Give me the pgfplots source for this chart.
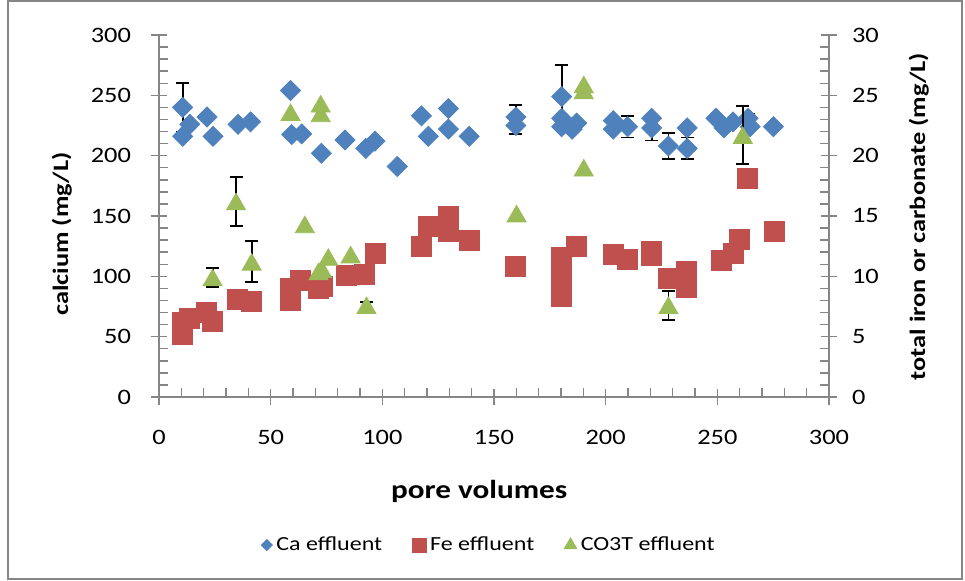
\documentclass[border=0pt]{standalone}
\usepackage{fontspec}
\setmainfont{Carlito}[FakeStretch=1.2]
\usepackage{pgfplots}
\pgfplotsset{compat=1.18}
\definecolor{cablue}{HTML}{4F81BD}
\definecolor{fered}{HTML}{C0504D}
\definecolor{cogreen}{HTML}{9BBB59}
\definecolor{axgray}{HTML}{868686}
\pgfplotsset{
  commonax/.style={
    at={(79.5pt,92pt)}, anchor=south west, scale only axis,
    width=335pt, height=181pt,
    xmin=0, xmax=300,
    axis line style={axgray, line width=0.75pt},
    tick align=center, major tick length=8pt, minor tick length=4.5pt,
    tick style={axgray, line width=0.75pt},
    /pgf/number format/assume math mode=true,
    tick label style={font=\fontsize{11}{13}\selectfont, text=black},
    label style={font=\bfseries\fontsize{11}{13}\selectfont},
    clip=false,
  },
  errst/.style={only marks, mark=none,
    error bars/y dir=both, error bars/y explicit,
    error bars/error mark=|,
    error bars/error bar style={black, line width=0.9pt},
    error bars/error mark options={black, mark size=3.25pt, line width=0.9pt}},
}
\begin{document}
\begin{tikzpicture}
\path (0,0) rectangle (482.5pt,290.5pt);
\draw[axgray, line width=0.6pt] (4pt,1pt) rectangle (481pt,290pt);
\begin{axis}[commonax,
  ymin=0, ymax=300,
  axis x line*=bottom, axis y line*=left,
  xtick={0,50,...,300}, ytick={0,50,...,300},
  minor x tick num=4, minor y tick num=4,
  minor x tick style={yshift=2.25pt}, minor y tick style={xshift=2.25pt},
  yticklabel style={xshift=-6.5pt},
  xticklabel style={yshift=-9pt},
  xlabel={pore volumes},
  xlabel style={at={(axis description cs:0.478,-0.262)}, anchor=center, font=\bfseries\fontsize{13}{15}\selectfont},
  ylabel={calcium (mg/L)},
  ylabel style={at={(axis description cs:-0.145,0.45)}, anchor=center, rotate=0},
]
% Ca error bars
\addplot[errst] coordinates {
 (10.6,240) +- (0,20)
 (58.9,254) +- (0,3)
 (159.8,230) +- (0,12)
 (180.3,249) +- (0,26)
 (209.8,224) +- (0,9)
 (220.6,223) +- (0,10.5)
 (228.1,208) +- (0,10.5)
 (236.5,206) +- (0,9)
 (263.8,231) +- (0,4)
};
\addplot[only marks, mark=diamond*, mark size=5pt, mark options={xscale=1.333, fill=cablue, draw=cablue}] coordinates {
 (10.6,240) (13.8,226) (10.6,216) (21.5,232) (24.2,216) (35.4,226) (41.0,228)
 (58.9,254) (59.4,217.5) (63.9,218) (72.7,202) (83.3,213) (92.6,206) (96.7,212)
 (106.7,191) (117.5,233) (120.6,216) (129.6,239) (129.6,222) (138.9,216)
 (159.8,232) (159.8,225) (180.3,249) (180.3,231) (180.3,224) (187,227) (185,222)
 (203.4,229) (203.4,222) (209.8,224) (220.6,231) (220.6,223) (228.1,208)
 (236.5,223) (236.5,206) (249.4,231) (253,223) (257,228) (263.8,231) (264.7,224)
 (275.1,224)
};
\end{axis}
\begin{axis}[commonax,
  ymin=0, ymax=30,
  axis x line=none, axis y line*=right,
  ytick={0,5,...,30}, minor y tick num=4,
  minor y tick style={xshift=-2.25pt},
  yticklabel style={xshift=4pt},
  ylabel={total iron or carbonate (mg/L)},
  ylabel style={at={(axis description cs:1.134,0.498)}, anchor=center, rotate=0},
  legend columns=3,
  legend style={at={(axis description cs:0.494,-0.409)}, anchor=center, draw=none,
    font=\fontsize{10}{12}\selectfont, /tikz/every even column/.style={column sep=13pt}},
  legend image code/.code={\draw[mark repeat=2,mark phase=2,#1] plot coordinates {(0pt,0pt)(5pt,0pt)(10pt,0pt)};},
]
\addlegendimage{only marks, mark=diamond*, mark size=2.75pt, mark options={xscale=1.333, fill=cablue, draw=cablue}}
\addlegendentry{Ca effluent}
\addlegendimage{only marks, mark=square*, mark size=3.5pt, mark options={fill=fered, draw=fered}}
\addlegendentry{Fe effluent}
\addlegendimage{only marks, mark=triangle*, mark size=3.6pt, mark options={fill=cogreen, draw=cogreen}}
\addlegendentry{CO3T effluent}
% Fe
\addplot[forget plot, errst] coordinates {(10.6,5.2) +- (0,0.85)};
\addplot[only marks, mark=square*, mark size=5pt, mark options={fill=fered, draw=fered}, forget plot] coordinates {
 (10.6,5.2) (10.6,6.2) (13.8,6.5) (21.3,7.0) (24.0,6.3) (35.0,8.05) (41.5,7.9)
 (58.7,8.0) (58.7,9.0) (63.1,9.7) (71.4,9.0) (73.3,9.2) (83.8,10.1) (92.1,10.2)
 (97.1,11.9) (117.5,12.5) (120.6,14.1) (129.6,15.0) (129.6,13.7) (139.2,13.0)
 (159.8,10.8) (180.3,11.6) (180.3,9.9) (180.3,8.3) (186.7,12.5) (203.4,11.8)
 (209.6,11.4) (220.6,12.1) (220.6,11.7) (228.1,9.8) (236.2,10.4) (236.2,9.1)
 (251.9,11.3) (257.1,11.9) (260.1,13.1) (263.5,18.1) (275.4,13.7)
};
% CO3T
\addplot[forget plot, errst] coordinates {
 (24.0,9.9) +- (0,0.8)
 (34.5,16.2) +- (0,2.0)
 (41.5,11.2) +- (0,1.7)
 (92.9,7.6) +- (0,0.3)
 (228.1,7.6) +- (0,1.2)
 (261.4,21.7) +- (0,2.4)
};
\addplot[only marks, mark=triangle*, mark size=5.5pt, mark options={fill=cogreen, draw=cogreen, yshift=-1.4pt}, forget plot] coordinates {
 (24.0,9.9) (34.5,16.2) (41.5,11.2) (58.9,23.6) (65.3,14.3) (71.4,10.4) (73,10.6)
 (72.4,24.3) (72.4,23.5) (75.8,11.6) (85.8,11.8) (92.9,7.6) (160.1,15.2)
 (190.2,25.9) (190.2,25.4) (190.2,19.0) (228.1,7.6) (261.4,21.7)
};
\end{axis}
\end{tikzpicture}
\end{document}
